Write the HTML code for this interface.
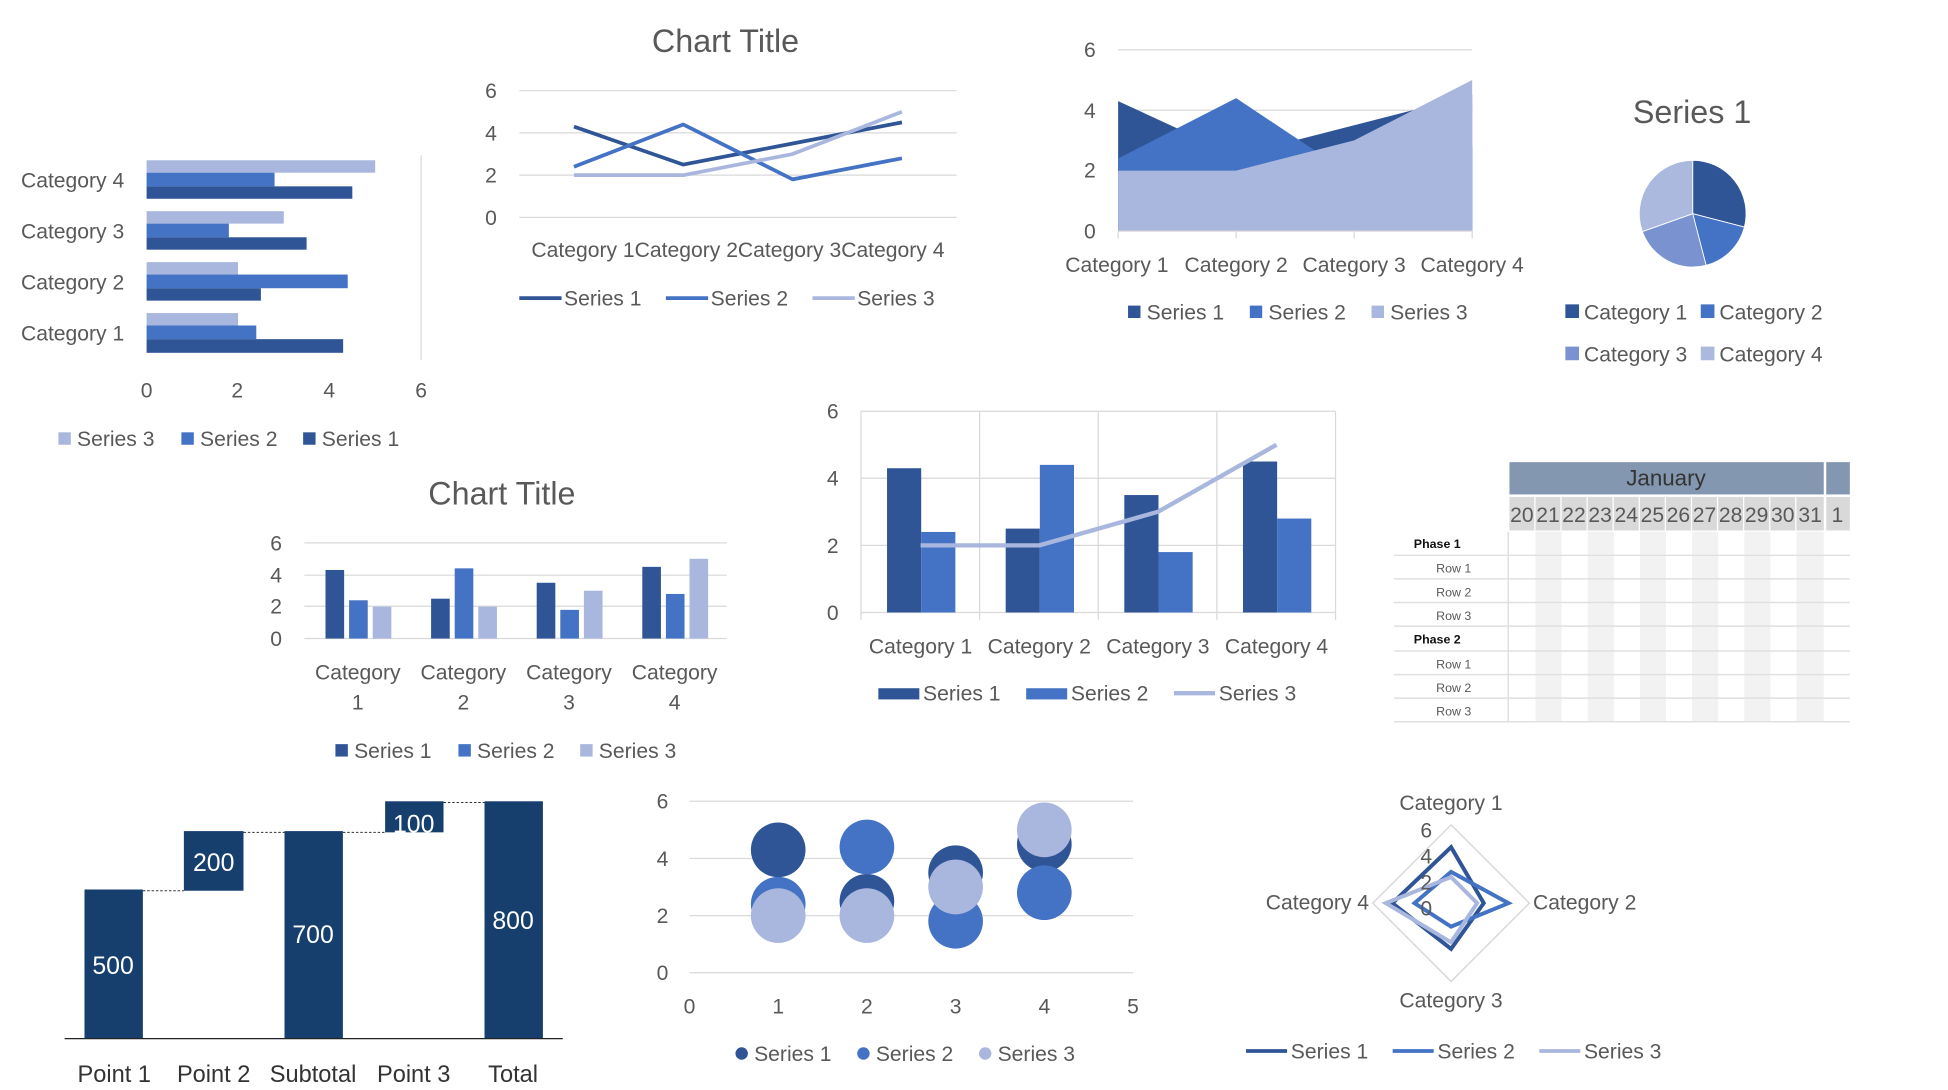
<!DOCTYPE html>
<html><head><meta charset="utf-8"><style>
html,body{margin:0;padding:0;background:#fff;}
svg{display:block;}
text{font-family:"Liberation Sans",sans-serif;fill:#595959;}
</style></head><body>
<svg width="1948" height="1090" viewBox="0 0 1568 877.4" preserveAspectRatio="none" xmlns="http://www.w3.org/2000/svg">
<!-- Chart 1: horizontal bars -->
<g stroke="#d9d9d9" stroke-width="1">
<line x1="339" y1="125" x2="339" y2="290"/>
</g>
<g>
<rect x="118" y="129" width="184" height="10" fill="#a9b7de"/>
<rect x="118" y="139" width="103" height="11" fill="#4472c4"/>
<rect x="118" y="150" width="165.6" height="10" fill="#2f5597"/>
<rect x="118" y="170" width="110.4" height="10" fill="#a9b7de"/>
<rect x="118" y="180" width="66.2" height="11" fill="#4472c4"/>
<rect x="118" y="191" width="128.8" height="10" fill="#2f5597"/>
<rect x="118" y="211" width="73.6" height="10" fill="#a9b7de"/>
<rect x="118" y="221" width="161.9" height="11" fill="#4472c4"/>
<rect x="118" y="232" width="92" height="10" fill="#2f5597"/>
<rect x="118" y="252" width="73.6" height="10" fill="#a9b7de"/>
<rect x="118" y="262" width="88.3" height="11" fill="#4472c4"/>
<rect x="118" y="273" width="158.2" height="11" fill="#2f5597"/>
</g>
<g font-size="17" text-anchor="end">
<text x="100" y="151">Category 4</text>
<text x="100" y="192">Category 3</text>
<text x="100" y="233">Category 2</text>
<text x="100" y="274">Category 1</text>
</g>
<g font-size="17" text-anchor="middle">
<text x="118" y="320">0</text><text x="191" y="320">2</text><text x="265" y="320">4</text><text x="339" y="320">6</text>
</g>
<g font-size="17">
<rect x="47" y="348" width="10" height="10" fill="#a9b7de"/><text x="62" y="359">Series 3</text>
<rect x="146" y="348" width="10" height="10" fill="#4472c4"/><text x="161" y="359">Series 2</text>
<rect x="244" y="348" width="10" height="10" fill="#2f5597"/><text x="259" y="359">Series 1</text>
</g>

<!-- Chart 2: line chart -->
<text x="584" y="42" font-size="26" text-anchor="middle">Chart Title</text>
<g stroke="#d9d9d9"><line x1="418" y1="73" x2="770" y2="73"/><line x1="418" y1="107" x2="770" y2="107"/><line x1="418" y1="141" x2="770" y2="141"/><line x1="418" y1="175" x2="770" y2="175"/></g>
<g font-size="17" text-anchor="end"><text x="400" y="79">6</text><text x="400" y="113">4</text><text x="400" y="147">2</text><text x="400" y="181">0</text></g>
<g fill="none" stroke-width="3" stroke-linejoin="round">
<polyline points="462,101.9 550,132.5 638,115.5 726,98.5" stroke="#2f5597"/>
<polyline points="462,134.2 550,100.2 638,144.4 726,127.4" stroke="#4472c4"/>
<polyline points="462,141 550,141 638,124 726,90" stroke="#a9b7de"/>
</g>
<text x="594" y="207" font-size="17" text-anchor="middle">Category 1Category 2Category 3Category 4</text>
<g font-size="17">
<line x1="418" y1="240" x2="452" y2="240" stroke="#2f5597" stroke-width="3"/><text x="454" y="246">Series 1</text>
<line x1="536" y1="240" x2="570" y2="240" stroke="#4472c4" stroke-width="3"/><text x="572" y="246">Series 2</text>
<line x1="654" y1="240" x2="688" y2="240" stroke="#a9b7de" stroke-width="3"/><text x="690" y="246">Series 3</text>
</g>

<!-- Chart 3: area -->
<g stroke="#d9d9d9"><line x1="900" y1="40" x2="1185" y2="40"/><line x1="900" y1="88.7" x2="1185" y2="88.7"/><line x1="900" y1="137.3" x2="1185" y2="137.3"/></g>
<polygon points="900,81.4 995,125.2 1090,100.8 1185,76.5 1185,186 900,186" fill="#2f5597"/>
<polygon points="900,127.6 995,79 1090,142.2 1185,117.9 1185,186 900,186" fill="#4472c4"/>
<polygon points="900,137.3 995,137.3 1090,113 1185,64.4 1185,186 900,186" fill="#a9b7de"/>
<g stroke="#d9d9d9"><line x1="900" y1="186" x2="1185" y2="186"/><line x1="900" y1="186" x2="900" y2="192"/><line x1="995" y1="186" x2="995" y2="192"/><line x1="1090" y1="186" x2="1090" y2="192"/><line x1="1185" y1="186" x2="1185" y2="192"/></g>
<g font-size="17" text-anchor="end"><text x="882" y="46">6</text><text x="882" y="95">4</text><text x="882" y="143">2</text><text x="882" y="192">0</text></g>
<g font-size="17" text-anchor="middle"><text x="899" y="219">Category 1</text><text x="995" y="219">Category 2</text><text x="1090" y="219">Category 3</text><text x="1185" y="219">Category 4</text></g>
<g font-size="17">
<rect x="908" y="246" width="10" height="10" fill="#2f5597"/><text x="923" y="257">Series 1</text>
<rect x="1006" y="246" width="10" height="10" fill="#4472c4"/><text x="1021" y="257">Series 2</text>
<rect x="1104" y="246" width="10" height="10" fill="#a9b7de"/><text x="1119" y="257">Series 3</text>
</g>

<!-- Chart 4: pie -->
<text x="1362" y="99" font-size="26" text-anchor="middle">Series 1</text>
<g stroke="#fff" stroke-width="0.7" transform="translate(6.5,0.5)">
<path d="M1356,171.5 L1356,128.5 A43,43 0 0 1 1397.6,182.3 Z" fill="#2f5597"/>
<path d="M1356,171.5 L1397.6,182.3 A43,43 0 0 1 1366.8,213.1 Z" fill="#4472c4"/>
<path d="M1356,171.5 L1366.8,213.1 A43,43 0 0 1 1315.5,185.9 Z" fill="#7a93d0"/>
<path d="M1356,171.5 L1315.5,185.9 A43,43 0 0 1 1356,128.5 Z" fill="#acb9de"/>
</g>
<g font-size="17">
<rect x="1260" y="245" width="11" height="11" fill="#2f5597"/><text x="1275" y="257">Category 1</text>
<rect x="1369" y="245" width="11" height="11" fill="#4472c4"/><text x="1384" y="257">Category 2</text>
<rect x="1260" y="279" width="11" height="11" fill="#7a93d0"/><text x="1275" y="291">Category 3</text>
<rect x="1369" y="279" width="11" height="11" fill="#acb9de"/><text x="1384" y="291">Category 4</text>
</g>

<!-- Chart 5: clustered columns -->
<text x="404" y="406" font-size="26" text-anchor="middle">Chart Title</text>
<g stroke="#d9d9d9"><line x1="245" y1="437" x2="585" y2="437"/><line x1="245" y1="463" x2="585" y2="463"/><line x1="245" y1="488" x2="585" y2="488"/><line x1="245" y1="514" x2="585" y2="514"/></g>
<g font-size="17" text-anchor="end"><text x="227" y="443">6</text><text x="227" y="469">4</text><text x="227" y="494">2</text><text x="227" y="520">0</text></g>
<g>
<rect x="262" y="458.8" width="15" height="55.2" fill="#2f5597"/><rect x="281" y="483.2" width="15" height="30.8" fill="#4472c4"/><rect x="300" y="488.3" width="15" height="25.7" fill="#a9b7de"/>
<rect x="347" y="481.9" width="15" height="32.1" fill="#2f5597"/><rect x="366" y="457.5" width="15" height="56.5" fill="#4472c4"/><rect x="385" y="488.3" width="15" height="25.7" fill="#a9b7de"/>
<rect x="432" y="469.1" width="15" height="44.9" fill="#2f5597"/><rect x="451" y="490.9" width="15" height="23.1" fill="#4472c4"/><rect x="470" y="475.5" width="15" height="38.5" fill="#a9b7de"/>
<rect x="517" y="456.3" width="15" height="57.7" fill="#2f5597"/><rect x="536" y="478.1" width="15" height="35.9" fill="#4472c4"/><rect x="555" y="449.8" width="15" height="64.2" fill="#a9b7de"/>
</g>
<g font-size="17" text-anchor="middle">
<text x="288" y="547">Category</text><text x="288" y="571">1</text>
<text x="373" y="547">Category</text><text x="373" y="571">2</text>
<text x="458" y="547">Category</text><text x="458" y="571">3</text>
<text x="543" y="547">Category</text><text x="543" y="571">4</text>
</g>
<g font-size="17">
<rect x="270" y="599" width="10" height="10" fill="#2f5597"/><text x="285" y="610">Series 1</text>
<rect x="369" y="599" width="10" height="10" fill="#4472c4"/><text x="384" y="610">Series 2</text>
<rect x="467" y="599" width="10" height="10" fill="#a9b7de"/><text x="482" y="610">Series 3</text>
</g>

<!-- Chart 6: combo -->
<g stroke="#d9d9d9">
<line x1="693" y1="331" x2="1075" y2="331"/><line x1="693" y1="385" x2="1075" y2="385"/><line x1="693" y1="439" x2="1075" y2="439"/><line x1="693" y1="493" x2="1075" y2="493"/>
<line x1="693" y1="331" x2="693" y2="499"/><line x1="788.5" y1="331" x2="788.5" y2="499"/><line x1="884" y1="331" x2="884" y2="499"/><line x1="979.5" y1="331" x2="979.5" y2="499"/><line x1="1075" y1="331" x2="1075" y2="499"/>
</g>
<g>
<rect x="714" y="376.9" width="27.5" height="116.1" fill="#2f5597"/><rect x="741.5" y="428.2" width="27.5" height="64.8" fill="#4472c4"/>
<rect x="809.5" y="425.5" width="27.5" height="67.5" fill="#2f5597"/><rect x="837" y="374.2" width="27.5" height="118.8" fill="#4472c4"/>
<rect x="905" y="398.5" width="27.5" height="94.5" fill="#2f5597"/><rect x="932.5" y="444.4" width="27.5" height="48.6" fill="#4472c4"/>
<rect x="1000.5" y="371.5" width="27.5" height="121.5" fill="#2f5597"/><rect x="1028" y="417.4" width="27.5" height="75.6" fill="#4472c4"/>
</g>
<polyline points="741,439 836.5,439 932,412 1027.5,358" fill="none" stroke="#a9b7de" stroke-width="3.5" stroke-linejoin="round"/>
<g font-size="17" text-anchor="end"><text x="675" y="337">6</text><text x="675" y="391">4</text><text x="675" y="445">2</text><text x="675" y="499">0</text></g>
<g font-size="17" text-anchor="middle"><text x="741" y="526">Category 1</text><text x="836.5" y="526">Category 2</text><text x="932" y="526">Category 3</text><text x="1027.5" y="526">Category 4</text></g>
<g font-size="17">
<rect x="707" y="554" width="33" height="9" fill="#2f5597"/><text x="743" y="564">Series 1</text>
<rect x="826" y="554" width="33" height="9" fill="#4472c4"/><text x="862" y="564">Series 2</text>
<line x1="945" y1="558" x2="978" y2="558" stroke="#a9b7de" stroke-width="3.5"/><text x="981" y="564">Series 3</text>
</g>

<!-- Chart 7: Gantt -->
<rect x="1215" y="372" width="253" height="26" fill="#8497b0"/>
<rect x="1470" y="372" width="19" height="26" fill="#8497b0"/>
<text x="1341" y="391" font-size="18" text-anchor="middle" style="fill:#333">January</text>
<g fill="#d9d9d9">
<rect x="1215" y="400" width="20" height="27"/><rect x="1236" y="400" width="20" height="27"/><rect x="1257" y="400" width="20" height="27"/><rect x="1278" y="400" width="20" height="27"/><rect x="1299" y="400" width="20" height="27"/><rect x="1320" y="400" width="20" height="27"/><rect x="1341" y="400" width="20" height="27"/><rect x="1362" y="400" width="20" height="27"/><rect x="1383" y="400" width="20" height="27"/><rect x="1404" y="400" width="20" height="27"/><rect x="1425" y="400" width="20" height="27"/><rect x="1446" y="400" width="22" height="27"/><rect x="1470" y="400" width="19" height="27"/>
</g>
<g fill="#f2f2f2">
<rect x="1236" y="428" width="21" height="153"/><rect x="1278" y="428" width="21" height="153"/><rect x="1320" y="428" width="21" height="153"/><rect x="1362" y="428" width="21" height="153"/><rect x="1404" y="428" width="21" height="153"/><rect x="1446" y="428" width="22" height="153"/>
</g>
<g font-size="17" style="fill:#555" text-anchor="middle">
<text x="1225" y="420">20</text><text x="1246" y="420">21</text><text x="1267" y="420">22</text><text x="1288" y="420">23</text><text x="1309" y="420">24</text><text x="1330" y="420">25</text><text x="1351" y="420">26</text><text x="1372" y="420">27</text><text x="1393" y="420">28</text><text x="1414" y="420">29</text><text x="1435" y="420">30</text><text x="1457" y="420">31</text><text x="1479" y="420">1</text>
</g>
<g stroke="#e0e0e0" stroke-width="1.2">
<line x1="1122" y1="447" x2="1489" y2="447"/><line x1="1122" y1="466" x2="1489" y2="466"/><line x1="1122" y1="485" x2="1489" y2="485"/><line x1="1122" y1="504" x2="1489" y2="504"/><line x1="1122" y1="524" x2="1489" y2="524"/><line x1="1122" y1="543" x2="1489" y2="543"/><line x1="1122" y1="562" x2="1489" y2="562"/><line x1="1122" y1="581" x2="1489" y2="581"/>
<line x1="1214" y1="428" x2="1214" y2="581"/>
</g>
<g font-size="10">
<text x="1138" y="441" style="fill:#111;font-weight:bold">Phase 1</text>
<text x="1156" y="461">Row 1</text><text x="1156" y="480">Row 2</text><text x="1156" y="499">Row 3</text>
<text x="1138" y="518" style="fill:#111;font-weight:bold">Phase 2</text>
<text x="1156" y="538">Row 1</text><text x="1156" y="557">Row 2</text><text x="1156" y="576">Row 3</text>
</g>

<!-- Chart 8: waterfall -->
<g fill="#173f6e">
<rect x="68" y="716" width="47" height="120"/>
<rect x="148" y="669" width="48" height="48"/>
<rect x="229" y="669" width="47" height="167"/>
<rect x="310" y="645" width="47" height="25"/>
<rect x="390" y="645" width="47" height="191"/>
</g>
<g stroke="#333" stroke-dasharray="2,1.5" stroke-width="0.8">
<line x1="115" y1="717" x2="148" y2="717"/><line x1="196" y1="670" x2="229" y2="670"/><line x1="276" y1="670" x2="310" y2="670"/><line x1="357" y1="646" x2="390" y2="646"/>
</g>
<line x1="52" y1="836" x2="453" y2="836" stroke="#222" stroke-width="1"/>
<g font-size="20" text-anchor="middle">
<text x="91" y="784" style="fill:#fff">500</text><text x="172" y="701" style="fill:#fff">200</text><text x="252" y="759" style="fill:#fff">700</text><text x="333" y="670" style="fill:#fff">100</text><text x="413" y="748" style="fill:#fff">800</text>
</g>
<g font-size="19" text-anchor="middle">
<text x="92" y="871" style="fill:#333">Point 1</text><text x="172" y="871" style="fill:#333">Point 2</text><text x="252" y="871" style="fill:#333">Subtotal</text><text x="333" y="871" style="fill:#333">Point 3</text><text x="413" y="871" style="fill:#333">Total</text>
</g>

<!-- Chart 9: bubble -->
<g stroke="#d9d9d9"><line x1="555" y1="645" x2="912" y2="645"/><line x1="555" y1="691" x2="912" y2="691"/><line x1="555" y1="737" x2="912" y2="737"/><line x1="555" y1="783" x2="912" y2="783"/></g>
<g fill="#2f5597"><circle cx="626.4" cy="684.1" r="22"/><circle cx="697.8" cy="725.5" r="22"/><circle cx="769.2" cy="702.5" r="22"/><circle cx="840.6" cy="679.5" r="22"/></g>
<g fill="#4472c4"><circle cx="626.4" cy="727.8" r="22"/><circle cx="697.8" cy="681.8" r="22"/><circle cx="769.2" cy="741.6" r="22"/><circle cx="840.6" cy="718.6" r="22"/></g>
<g fill="#a9b7de"><circle cx="626.4" cy="737" r="22"/><circle cx="697.8" cy="737" r="22"/><circle cx="769.2" cy="714" r="22"/><circle cx="840.6" cy="668" r="22"/></g>
<g font-size="17" text-anchor="end"><text x="538" y="651">6</text><text x="538" y="697">4</text><text x="538" y="743">2</text><text x="538" y="789">0</text></g>
<g font-size="17" text-anchor="middle"><text x="555" y="816">0</text><text x="626.4" y="816">1</text><text x="697.8" y="816">2</text><text x="769.2" y="816">3</text><text x="840.6" y="816">4</text><text x="912" y="816">5</text></g>
<g font-size="17">
<circle cx="597" cy="848" r="5" fill="#2f5597"/><text x="607" y="854">Series 1</text>
<circle cx="695" cy="848" r="5" fill="#4472c4"/><text x="705" y="854">Series 2</text>
<circle cx="793" cy="848" r="5" fill="#a9b7de"/><text x="803" y="854">Series 3</text>
</g>

<!-- Chart 10: radar -->
<g transform="translate(5,4)">
<polygon points="1163,660 1226,723 1163,786 1100,723" fill="none" stroke="#d9d9d9" stroke-width="1.2"/>
<g fill="none" stroke-width="3.2" stroke-linejoin="miter">
<polygon points="1163,677.9 1189.3,723 1163,759.8 1115.8,723" stroke="#2f5597"/>
<polygon points="1163,697.8 1209.2,723 1163,741.9 1133.6,723" stroke="#4472c4"/>
<polygon points="1163,702 1184,723 1163,754.5 1110.5,723" stroke="#a9b7de"/>
</g>
<g font-size="17" text-anchor="middle"><text x="1143" y="670">6</text><text x="1143" y="691">4</text><text x="1143" y="712">2</text><text x="1143" y="733">0</text></g>
</g>
<g font-size="17">
<text x="1168" y="652" text-anchor="middle">Category 1</text>
<text x="1234" y="732">Category 2</text>
<text x="1168" y="811" text-anchor="middle">Category 3</text>
<text x="1102" y="732" text-anchor="end">Category 4</text>
</g>
<g font-size="17">
<line x1="1003" y1="846" x2="1036" y2="846" stroke="#2f5597" stroke-width="3"/><text x="1039" y="852">Series 1</text>
<line x1="1121" y1="846" x2="1154" y2="846" stroke="#4472c4" stroke-width="3"/><text x="1157" y="852">Series 2</text>
<line x1="1239" y1="846" x2="1272" y2="846" stroke="#a9b7de" stroke-width="3"/><text x="1275" y="852">Series 3</text>
</g>
</svg>
</body></html>
